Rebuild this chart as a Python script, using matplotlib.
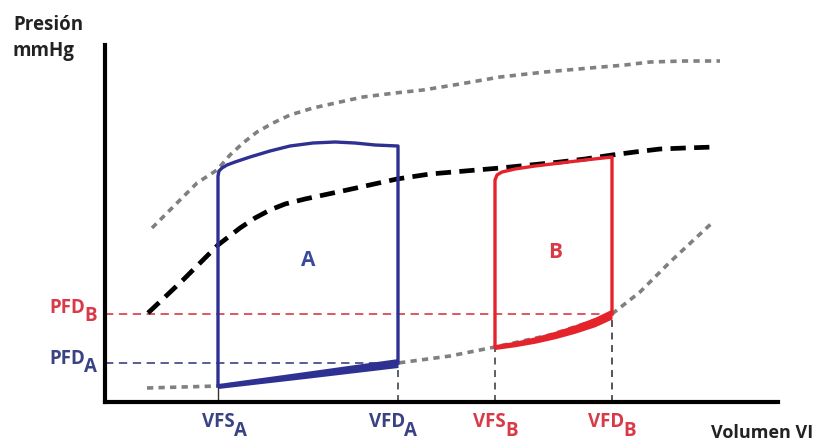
import numpy as np
import matplotlib
matplotlib.use("Agg")
import matplotlib.pyplot as plt

plt.rcParams['font.family'] = ['Open Sans', 'DejaVu Sans']
plt.rcParams['lines.scale_dashes'] = False

# ---- data (volume V, pressure P, arbitrary units) ----
upper_v = [47, 70, 92, 112, 125, 138, 152, 168, 185, 208, 235, 258, 290, 318, 355, 395, 440, 485, 520, 545, 580, 615]
upper_p = [174, 197, 219, 232, 247, 259, 270, 279, 287, 294, 300, 305, 309, 312, 318, 325, 330, 334, 337, 340, 341, 341]

mid_v = [43, 78, 113, 135, 150, 165, 180, 200, 242, 292, 325, 360, 395, 425, 455, 480, 507, 530, 555, 580, 610]
mid_p = [89, 122, 157, 174, 184, 192, 198, 203, 212, 223, 228, 231, 234, 237, 240, 243, 247, 250, 253, 254, 255]

lower_v = [42, 113, 195, 293, 345, 390, 445, 485, 507, 535, 565, 608]
lower_p = [14, 16, 26, 39, 46, 55, 67, 80, 88, 110, 140, 180]

loopA_v = [113, 113, 114, 117, 122, 130, 145, 165, 185, 208, 230, 250, 270, 293, 293]
loopA_p = [16, 226, 231, 234, 237, 240, 245, 251, 256, 259, 260, 259, 257, 256, 39]
loopA_bot_v = [113, 200, 293]
loopA_bot_p = [16, 27, 39]

loopB_v = [390, 390, 392, 397, 410, 430, 455, 480, 507, 507]
loopB_p = [55, 222, 227, 230, 233, 236, 239, 242, 245, 88]
loopB_bot_v = [390, 410, 430, 450, 470, 490, 507]
loopB_bot_p = [55, 58, 62, 67, 73, 80, 88]

VFS_A, VFD_A, VFS_B, VFD_B = 113, 293, 390, 507
PFD_A, PFD_B = 39, 88
ESV_A_P, ESV_B_P = 16, 55

# ---- style ----
BLUE = '#2e3192'
RED = '#e5232b'
NAVY_T = '#3b4282'
RED_T = '#d93a48'
GRAY = '#808080'
FS = 13.5

fig = plt.figure(figsize=(8.19, 4.41), dpi=100)
ax = fig.add_axes([105/819, 39/441, 673/819, 357/441])
ax.set_xlim(0, 673)
ax.set_ylim(0, 357)
for s in ['top', 'right']:
    ax.spines[s].set_visible(False)
for s in ['left', 'bottom']:
    ax.spines[s].set_linewidth(3)
    ax.spines[s].set_color('black')
    ax.spines[s].set_zorder(6)
ax.set_xticks([])
ax.set_yticks([])

# reference curves
ax.plot(upper_v, upper_p, color=GRAY, lw=2.6, dashes=(4.5, 3.8), zorder=2)
ax.plot(lower_v, lower_p, color=GRAY, lw=2.6, dashes=(4.5, 3.8), zorder=2)
ax.plot(mid_v, mid_p, color='black', lw=3.4, dashes=(11, 6), zorder=3)

# horizontal pressure guides
ax.plot([0, VFD_B], [PFD_B, PFD_B], color=RED_T, lw=1.2, dashes=(6, 4), zorder=2)
ax.plot([0, VFD_A], [PFD_A, PFD_A], color=NAVY_T, lw=1.2, dashes=(6, 4), zorder=2)

# vertical volume guides
ax.plot([VFS_A, VFS_A], [0, ESV_A_P], color='#333333', lw=1.0, zorder=2)
ax.plot([VFD_A, VFD_A], [0, PFD_A], color='#444444', lw=1.2, dashes=(5, 4), zorder=2)
ax.plot([VFS_B, VFS_B], [0, ESV_B_P], color='#444444', lw=1.2, dashes=(5, 4), zorder=2)
ax.plot([VFD_B, VFD_B], [0, PFD_B], color='#555555', lw=1.4, dashes=(5, 4), zorder=2)

# loop A
ax.plot(loopA_v, loopA_p, color=BLUE, lw=2.4, solid_joinstyle='round', zorder=4)
tA = np.array([5, 7, 9])
ax.fill_between(loopA_bot_v, np.array(loopA_bot_p) - tA/2, np.array(loopA_bot_p) + tA/2,
                color=BLUE, lw=0, zorder=4)

# loop B
ax.plot(loopB_v, loopB_p, color=RED, lw=2.4, solid_joinstyle='round', zorder=4)
tB = np.array([5, 5.5, 6.5, 7.5, 8.5, 9.5, 10])
ax.fill_between(loopB_bot_v, np.array(loopB_bot_p) - tB/2, np.array(loopB_bot_p) + tB/2,
                color=RED, lw=0, zorder=4)

# loop labels
ax.text(203, 142, 'A', color='#3b4a9a', fontsize=15, fontweight='bold', ha='center', va='center')
ax.text(450, 150, 'B', color=RED_T, fontsize=15, fontweight='bold', ha='center', va='center')

# axis titles
ax.text(-92, 377, 'Presión', color='#222222', fontsize=FS, fontweight='bold',
        ha='left', va='center', clip_on=False)
ax.text(-92, 351, 'mmHg', color='#222222', fontsize=FS, fontweight='bold',
        ha='left', va='center', clip_on=False)
ax.text(708, -31, 'Volumen VI', color='#222222', fontsize=13, fontweight='bold',
        ha='right', va='center', clip_on=False)

def sublabel(x, y_main, y_sub, main, sub, color):
    ax.text(x, y_main, main, color=color, fontsize=FS, fontweight='bold',
            ha='right', va='center', clip_on=False)
    ax.text(x - 1, y_sub, sub, color=color, fontsize=FS, fontweight='bold',
            ha='left', va='center', clip_on=False)

sublabel(-20, 94, 86, 'PFD', 'B', RED_T)
sublabel(-20, 43, 35, 'PFD', 'A', NAVY_T)
sublabel(130, -20, -29, 'VFS', 'A', NAVY_T)
sublabel(300, -20, -29, 'VFD', 'A', NAVY_T)
sublabel(401, -20, -29, 'VFS', 'B', RED_T)
sublabel(519, -20, -29, 'VFD', 'B', RED_T)

fig.savefig('out.png', dpi=100)
